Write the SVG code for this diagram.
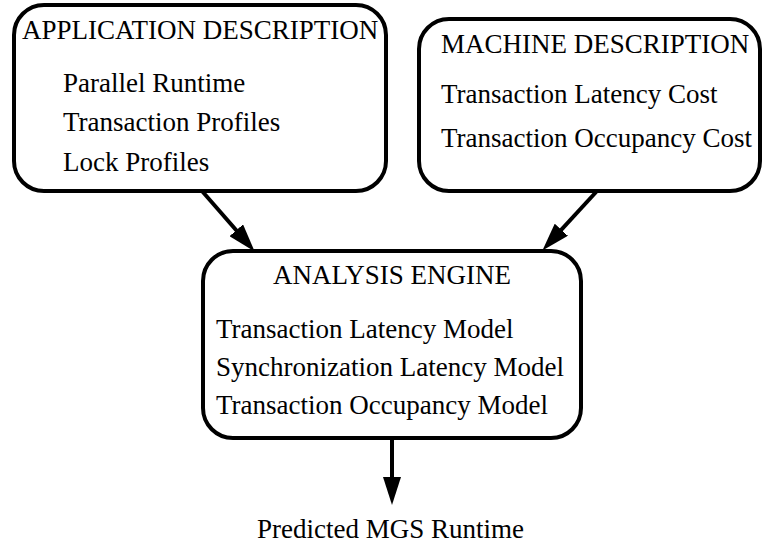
<svg xmlns="http://www.w3.org/2000/svg" width="762" height="543" viewBox="0 0 762 543">
<style>
.box{fill:#fff;stroke:#000;stroke-width:4}
.t{font-family:"Liberation Serif","Times New Roman",serif;font-size:27px;fill:#000}
.c{stroke:#000;stroke-width:4;fill:none}
</style>
<defs>
<marker id="ah" markerUnits="userSpaceOnUse" viewBox="0 0 28 18" markerWidth="28" markerHeight="18" refX="6" refY="9" orient="auto">
<path d="M0,0 L28,9 L0,18 z" fill="#000"/>
</marker>
</defs>
<rect width="762" height="543" fill="#fff"/>
<g id="connectors">
<line class="c" x1="202" y1="191" x2="240.2" y2="234.8" marker-end="url(#ah)"/>
<line class="c" x1="597" y1="191" x2="557.3" y2="234.2" marker-end="url(#ah)"/>
<line class="c" x1="392" y1="438" x2="392" y2="483" marker-end="url(#ah)"/>
</g>
<g id="app">
<rect class="box" x="14" y="5" width="372" height="186" rx="30"/>
<text class="t" x="22" y="39">APPLICATION DESCRIPTION</text>
<text class="t" x="63" y="92">Parallel Runtime</text>
<text class="t" x="63" y="131">Transaction Profiles</text>
<text class="t" x="63" y="171">Lock Profiles</text>
</g>
<g id="machine">
<rect class="box" x="419" y="19" width="341" height="172" rx="30"/>
<text class="t" x="441" y="53">MACHINE DESCRIPTION</text>
<text class="t" x="441" y="103">Transaction Latency Cost</text>
<text class="t" x="441" y="147">Transaction Occupancy Cost</text>
</g>
<g id="engine">
<rect class="box" x="203" y="251" width="378" height="187" rx="30"/>
<text class="t" x="273" y="284">ANALYSIS ENGINE</text>
<text class="t" x="216" y="338">Transaction Latency Model</text>
<text class="t" x="216" y="376">Synchronization Latency Model</text>
<text class="t" x="216" y="414">Transaction Occupancy Model</text>
</g>
<g id="output">
<text class="t" x="257" y="538">Predicted MGS Runtime</text>
</g>
</svg>
